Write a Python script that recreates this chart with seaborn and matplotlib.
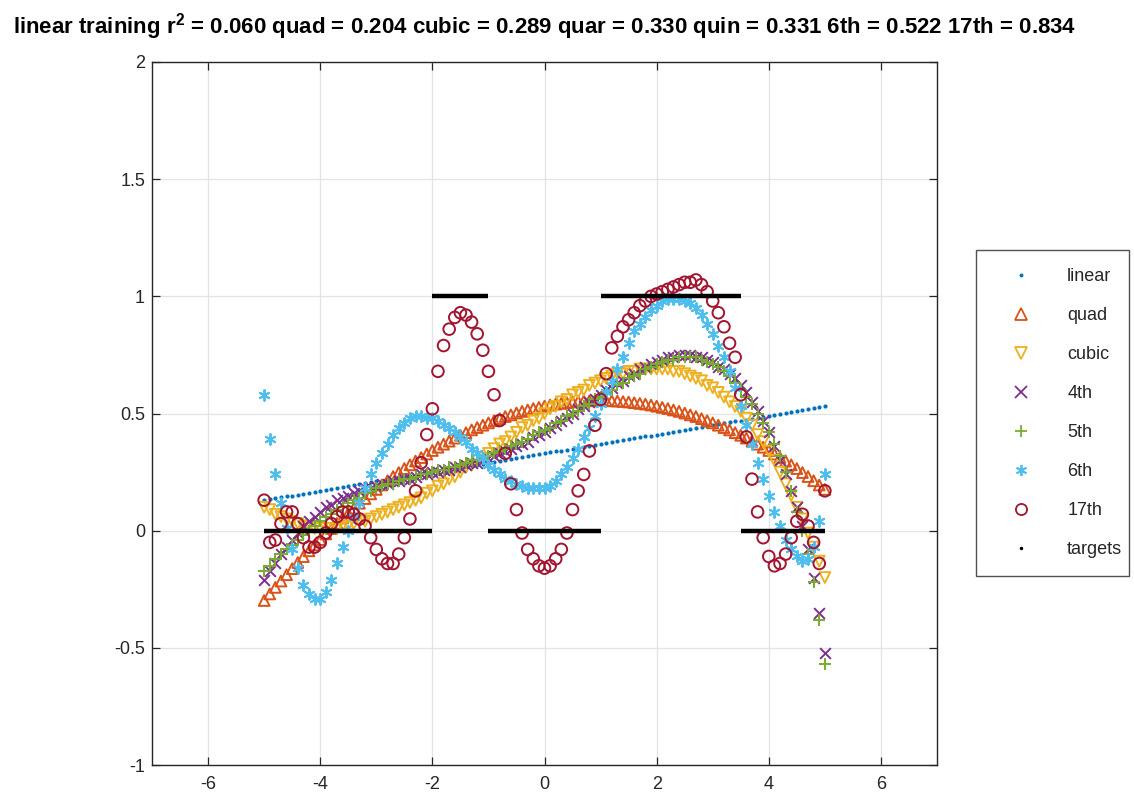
import numpy as np
import matplotlib
matplotlib.use("Agg")
import matplotlib.pyplot as plt
from matplotlib.lines import Line2D
import seaborn as sns

# sample positions where every fitted polynomial is evaluated
x_samples = np.linspace(-5.0, 5.0, 101)

linear_fit = [
    0.130, 0.134, 0.138, 0.142, 0.146, 0.150, 0.154, 0.158, 0.162, 0.166,
    0.170, 0.174, 0.178, 0.182, 0.186, 0.190, 0.194, 0.198, 0.202, 0.206,
    0.210, 0.214, 0.218, 0.222, 0.226, 0.230, 0.234, 0.238, 0.242, 0.246,
    0.250, 0.254, 0.258, 0.262, 0.266, 0.270, 0.274, 0.278, 0.282, 0.286,
    0.290, 0.294, 0.298, 0.302, 0.306, 0.310, 0.314, 0.318, 0.322, 0.326,
    0.330, 0.334, 0.338, 0.342, 0.346, 0.350, 0.354, 0.358, 0.362, 0.366,
    0.370, 0.374, 0.378, 0.382, 0.386, 0.390, 0.394, 0.398, 0.402, 0.406,
    0.410, 0.414, 0.418, 0.422, 0.426, 0.430, 0.434, 0.438, 0.442, 0.446,
    0.450, 0.454, 0.458, 0.462, 0.466, 0.470, 0.474, 0.478, 0.482, 0.486,
    0.490, 0.494, 0.498, 0.502, 0.506, 0.510, 0.514, 0.518, 0.522, 0.526,
    0.530,
]

quad_fit = [
    -0.298, -0.270, -0.242, -0.215, -0.188, -0.162, -0.136, -0.111, -0.086, -0.061,
    -0.038, -0.014, 0.009, 0.031, 0.054, 0.075, 0.096, 0.117, 0.137, 0.157,
    0.176, 0.195, 0.213, 0.231, 0.248, 0.265, 0.281, 0.297, 0.312, 0.327,
    0.342, 0.356, 0.369, 0.382, 0.395, 0.407, 0.418, 0.430, 0.440, 0.450,
    0.460, 0.469, 0.478, 0.487, 0.494, 0.502, 0.509, 0.515, 0.521, 0.526,
    0.531, 0.536, 0.540, 0.543, 0.546, 0.549, 0.551, 0.553, 0.554, 0.555,
    0.555, 0.555, 0.554, 0.553, 0.551, 0.549, 0.546, 0.543, 0.540, 0.536,
    0.531, 0.526, 0.521, 0.515, 0.509, 0.502, 0.494, 0.487, 0.478, 0.469,
    0.460, 0.450, 0.440, 0.430, 0.418, 0.407, 0.395, 0.382, 0.369, 0.356,
    0.342, 0.327, 0.312, 0.297, 0.281, 0.265, 0.248, 0.231, 0.213, 0.195,
    0.176,
]

cubic_fit = [
    0.10, 0.09, 0.07, 0.06, 0.05, 0.04, 0.03, 0.02, 0.02, 0.01,
    0.01, 0.01, 0.01, 0.01, 0.02, 0.02, 0.03, 0.04, 0.04, 0.05,
    0.06, 0.07, 0.08, 0.09, 0.10, 0.11, 0.12, 0.13, 0.14, 0.16,
    0.17, 0.19, 0.20, 0.22, 0.23, 0.25, 0.27, 0.28, 0.30, 0.31,
    0.33, 0.35, 0.37, 0.38, 0.40, 0.42, 0.44, 0.45, 0.47, 0.48,
    0.50, 0.52, 0.53, 0.55, 0.56, 0.58, 0.59, 0.60, 0.62, 0.63,
    0.64, 0.65, 0.66, 0.67, 0.67, 0.68, 0.68, 0.69, 0.69, 0.69,
    0.69, 0.69, 0.69, 0.68, 0.68, 0.67, 0.66, 0.65, 0.64, 0.62,
    0.61, 0.59, 0.57, 0.55, 0.53, 0.51, 0.48, 0.45, 0.41, 0.38,
    0.34, 0.30, 0.25, 0.20, 0.15, 0.10, 0.05, -0.01, -0.07, -0.13,
    -0.20,
]

quartic_fit = [
    -0.21, -0.17, -0.14, -0.10, -0.07, -0.04, -0.01, 0.02, 0.04, 0.06,
    0.08, 0.10, 0.11, 0.13, 0.14, 0.15, 0.16, 0.17, 0.18, 0.18,
    0.19, 0.20, 0.20, 0.21, 0.21, 0.22, 0.22, 0.23, 0.24, 0.24,
    0.25, 0.25, 0.26, 0.26, 0.27, 0.27, 0.28, 0.29, 0.29, 0.30,
    0.31, 0.32, 0.33, 0.34, 0.35, 0.36, 0.37, 0.38, 0.40, 0.41,
    0.42, 0.44, 0.45, 0.47, 0.48, 0.50, 0.52, 0.53, 0.55, 0.56,
    0.58, 0.60, 0.61, 0.63, 0.64, 0.66, 0.67, 0.69, 0.70, 0.71,
    0.72, 0.73, 0.74, 0.74, 0.75, 0.75, 0.75, 0.74, 0.74, 0.73,
    0.72, 0.70, 0.69, 0.67, 0.65, 0.62, 0.59, 0.55, 0.51, 0.47,
    0.42, 0.36, 0.30, 0.24, 0.17, 0.10, 0.02, -0.08, -0.20, -0.35,
    -0.52,
]

quintic_fit = [
    -0.17, -0.15, -0.12, -0.10, -0.08, -0.06, -0.04, -0.02, 0.00, 0.02,
    0.04, 0.06, 0.07, 0.09, 0.10, 0.12, 0.13, 0.14, 0.16, 0.17,
    0.18, 0.19, 0.20, 0.20, 0.21, 0.22, 0.22, 0.23, 0.24, 0.24,
    0.25, 0.26, 0.26, 0.27, 0.27, 0.28, 0.29, 0.30, 0.30, 0.31,
    0.32, 0.33, 0.34, 0.35, 0.36, 0.37, 0.38, 0.39, 0.41, 0.42,
    0.43, 0.44, 0.46, 0.47, 0.49, 0.50, 0.51, 0.53, 0.54, 0.56,
    0.57, 0.59, 0.60, 0.62, 0.63, 0.65, 0.66, 0.67, 0.69, 0.70,
    0.71, 0.72, 0.73, 0.73, 0.74, 0.74, 0.74, 0.74, 0.73, 0.72,
    0.71, 0.70, 0.68, 0.66, 0.63, 0.60, 0.57, 0.54, 0.50, 0.46,
    0.42, 0.37, 0.32, 0.25, 0.17, 0.08, 0.00, -0.10, -0.22, -0.38,
    -0.57,
]

sextic_fit = [
    0.58, 0.39, 0.24, 0.12, 0.01, -0.08, -0.16, -0.23, -0.27, -0.29,
    -0.29, -0.26, -0.21, -0.14, -0.07, 0.00, 0.06, 0.12, 0.18, 0.24,
    0.29, 0.33, 0.37, 0.41, 0.44, 0.46, 0.48, 0.49, 0.49, 0.48,
    0.48, 0.47, 0.45, 0.44, 0.42, 0.40, 0.38, 0.35, 0.33, 0.31,
    0.28, 0.26, 0.24, 0.22, 0.21, 0.20, 0.19, 0.18, 0.18, 0.18,
    0.18, 0.19, 0.21, 0.24, 0.27, 0.31, 0.35, 0.40, 0.44, 0.49,
    0.54, 0.59, 0.64, 0.69, 0.74, 0.80, 0.85, 0.88, 0.91, 0.94,
    0.96, 0.98, 0.99, 0.99, 0.99, 0.98, 0.97, 0.95, 0.92, 0.88,
    0.84, 0.79, 0.74, 0.68, 0.61, 0.53, 0.45, 0.37, 0.29, 0.22,
    0.15, 0.08, 0.02, -0.04, -0.08, -0.11, -0.13, -0.12, -0.07, 0.04,
    0.24,
]

deg17_fit = [
    0.13, -0.05, -0.04, 0.03, 0.08, 0.08, 0.03, -0.03, -0.07, -0.07,
    -0.05, -0.01, 0.03, 0.06, 0.08, 0.08, 0.07, 0.05, 0.02, -0.03,
    -0.08, -0.12, -0.14, -0.14, -0.10, -0.03, 0.05, 0.17, 0.29, 0.41,
    0.52, 0.68, 0.79, 0.86, 0.91, 0.93, 0.92, 0.89, 0.84, 0.77,
    0.68, 0.58, 0.47, 0.33, 0.20, 0.09, -0.01, -0.08, -0.12, -0.15,
    -0.16, -0.15, -0.12, -0.08, -0.01, 0.09, 0.17, 0.24, 0.34, 0.45,
    0.56, 0.67, 0.78, 0.83, 0.87, 0.90, 0.93, 0.96, 0.98, 1.00,
    1.01, 1.02, 1.03, 1.04, 1.05, 1.06, 1.06, 1.07, 1.05, 1.02,
    0.98, 0.93, 0.87, 0.80, 0.74, 0.58, 0.40, 0.22, 0.08, -0.03,
    -0.11, -0.15, -0.14, -0.10, -0.03, 0.04, 0.07, 0.02, -0.05, -0.14,
    0.17,
]

# piecewise-constant training targets
target_start = [-5.0, -2.0, -1.0, 1.0, 3.5]
target_end = [-2.0, -1.0, 1.0, 3.5, 5.0]
target_level = [0.0, 1.0, 0.0, 1.0, 0.0]

legend_labels = ["linear", "quad", "cubic", "4th", "5th", "6th", "17th", "targets"]
title_names = ["linear training r$^2$", "quad", "cubic", "quar", "quin", "6th", "17th"]
r2_values = [0.060, 0.204, 0.289, 0.330, 0.331, 0.522, 0.834]

sns.set_theme(style="whitegrid")
plt.rcParams["font.family"] = ["Liberation Sans", "DejaVu Sans"]
plt.rcParams["mathtext.fontset"] = "custom"
plt.rcParams["mathtext.bf"] = "Liberation Sans:bold"
plt.rcParams["mathtext.rm"] = "Liberation Sans:bold"
plt.rcParams["mathtext.default"] = "bf"

fig = plt.figure(figsize=(11.34, 8.0), dpi=100)
ax = fig.add_axes([152 / 1134, 35 / 800, 785 / 1134, 703 / 800])
ax.set_facecolor("white")

ink = "#262626"
styles = [
    # label, values, colour, marker, size, hollow
    ("linear", linear_fit, "#0072BD", ".", 9, False),
    ("quad", quad_fit, "#D95319", "^", 60, True),
    ("cubic", cubic_fit, "#EDB120", "v", 60, True),
    ("4th", quartic_fit, "#7E2F8E", "x", 60, False),
    ("5th", quintic_fit, "#77AC30", "+", 70, False),
    ("6th", sextic_fit, "#4DBEEE", (6, 2, 0), 60, False),
    ("17th", deg17_fit, "#A2142F", "o", 70, True),
]

handles = []
for label, vals, col, mk, size, hollow in styles:
    if hollow:
        sns.scatterplot(x=x_samples, y=vals, marker=mk, s=size, color=col,
                        facecolor="none", edgecolor=col, linewidth=1.4,
                        ax=ax, legend=False, zorder=3)
    elif mk == ".":
        sns.scatterplot(x=x_samples, y=vals, marker="o", s=size, color=col,
                        edgecolor=col, linewidth=0, ax=ax, legend=False, zorder=3)
    else:
        sns.scatterplot(x=x_samples, y=vals, marker=mk, s=size, color=col,
                        linewidth=1.4, ax=ax, legend=False, zorder=3)
    handles.append(Line2D([], [], linestyle="", marker=mk,
                          markersize=8 if mk != "." else 3,
                          markerfacecolor="none" if hollow else col,
                          markeredgecolor=col, markeredgewidth=1.3))

ax.hlines(target_level, target_start, target_end, colors="black",
          linewidth=3.2, zorder=4)
handles.append(Line2D([], [], linestyle="", marker=".", markersize=3,
                      color="black"))

ax.set_xlim(-7, 7)
ax.set_ylim(-1, 2)
ax.set_xticks([-6, -4, -2, 0, 2, 4, 6])
ax.set_yticks([-1, -0.5, 0, 0.5, 1, 1.5, 2])
ax.set_xticklabels(["-6", "-4", "-2", "0", "2", "4", "6"])
ax.set_yticklabels(["-1", "-0.5", "0", "0.5", "1", "1.5", "2"])
ax.grid(True, color="#e3e3e3", linewidth=0.9)
ax.tick_params(direction="in", length=6, width=0.9, color=ink, labelcolor=ink,
               labelsize=13, top=True, right=True, bottom=True, left=True)
ax.tick_params(axis="x", pad=8)
ax.tick_params(axis="y", pad=5)
for side in ax.spines.values():
    side.set_color(ink)
    side.set_linewidth(1.0)
ax.set_xlabel("")
ax.set_ylabel("")

title = " ".join(f"{n} = {v:.3f}" for n, v in zip(title_names, r2_values))
fig.text(544.5 / 1134, 1 - 27 / 800, title, ha="center", va="center",
         fontsize=16, fontweight="bold", color="black",
         family=["Liberation Sans", "DejaVu Sans"])

leg = fig.legend(handles, legend_labels, loc="upper left",
                 bbox_to_anchor=(976 / 1134, 1 - 250 / 800, 153 / 1134, 0),
                 bbox_transform=fig.transFigure, mode="expand",
                 frameon=True, fancybox=False,
                 fontsize=13, labelspacing=1.22, borderpad=1.0,
                 handlelength=3.0, handletextpad=1.05, borderaxespad=0)
leg.get_frame().set_edgecolor(ink)
leg.get_frame().set_linewidth(1.0)
for t in leg.get_texts():
    t.set_color(ink)

fig.savefig("out.png", dpi=100, facecolor="white")
